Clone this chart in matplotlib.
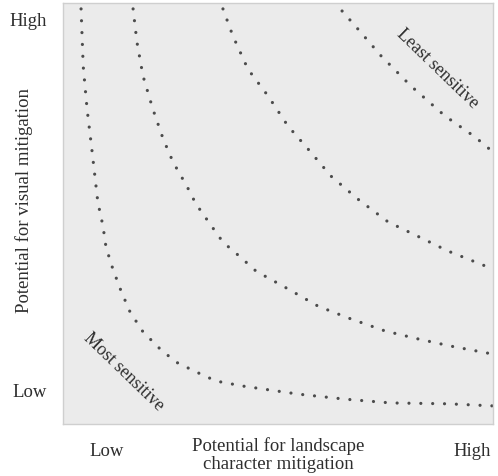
import matplotlib.pyplot as plt

plt.rcParams['font.family'] = ['Liberation Serif', 'DejaVu Serif']

# sensitivity curves, axes running 0..1 (low..high)
c1_x = [0.042, 0.047, 0.056, 0.067, 0.081, 0.093, 0.100, 0.116, 0.135, 0.156, 0.186, 0.226,
        0.263, 0.309, 0.356, 0.419, 0.547, 0.656, 0.763, 0.895, 1.0]
c1_y = [0.986, 0.850, 0.748, 0.653, 0.527, 0.470, 0.420, 0.368, 0.316, 0.266, 0.219, 0.178,
        0.147, 0.124, 0.102, 0.090, 0.071, 0.059, 0.050, 0.048, 0.043]
c2_x = [0.163, 0.172, 0.186, 0.209, 0.233, 0.256, 0.288, 0.309, 0.342, 0.372, 0.412, 0.449,
        0.523, 0.593, 0.663, 0.749, 0.826, 0.902, 1.0]
c2_y = [0.986, 0.907, 0.827, 0.748, 0.677, 0.622, 0.565, 0.523, 0.475, 0.432, 0.397, 0.363,
        0.321, 0.280, 0.252, 0.221, 0.202, 0.185, 0.166]
c3_x = [0.372, 0.395, 0.430, 0.477, 0.523, 0.570, 0.623, 0.686, 0.756, 0.833, 0.895, 1.0]
c3_y = [0.986, 0.922, 0.843, 0.779, 0.708, 0.653, 0.589, 0.534, 0.480, 0.442, 0.411, 0.368]
c4_x = [0.649, 0.686, 0.740, 0.809, 0.888, 0.958, 1.0]
c4_y = [0.981, 0.938, 0.874, 0.803, 0.732, 0.682, 0.646]

tick_pos_x = [0.102, 0.951]
tick_pos_y = [0.083, 0.962]
tick_labels = ['Low', 'High']

fig = plt.figure(figsize=(4.98, 4.77), dpi=100)
ax = fig.add_axes([63/498, 1-425/477, 430/498, 421/477])
ax.set_facecolor('#ebebeb')
for s in ax.spines.values():
    s.set_color('#cfcfcf')
    s.set_linewidth(1.0)

for xs, ys in [(c1_x, c1_y), (c2_x, c2_y), (c3_x, c3_y), (c4_x, c4_y)]:
    ax.plot(xs, ys, color='#4c4c4c', lw=2.3, linestyle=(0, (0.01, 3.7)),
            dash_capstyle='round', solid_joinstyle='round')

ax.set_xlim(0, 1)
ax.set_ylim(0, 1)
ax.set_xticks(tick_pos_x)
ax.set_xticklabels(tick_labels)
ax.set_yticks(tick_pos_y)
ax.set_yticklabels(tick_labels)
ax.tick_params(length=0, labelsize=13.5, colors='#2e2e2e')
ax.tick_params(axis='x', pad=13)
ax.tick_params(axis='y', pad=11.5)

ax.set_ylabel('Potential for visual mitigation', fontsize=13.5, color='#2e2e2e')
ax.yaxis.set_label_coords(-0.07, 0.534)
ax.text(0.5, -0.071, 'Potential for landscape\ncharacter mitigation', transform=ax.transAxes,
        ha='center', va='center', fontsize=13.5, color='#2e2e2e', linespacing=1.1)

ax.text(0.872, 0.846, 'Least sensitive', transform=ax.transAxes, rotation=-44,
        ha='center', va='center', fontsize=13, color='#2e2e2e')
ax.text(0.142, 0.126, 'Most sensitive', transform=ax.transAxes, rotation=-44,
        ha='center', va='center', fontsize=13, color='#2e2e2e')

fig.savefig('out.png', dpi=100)
